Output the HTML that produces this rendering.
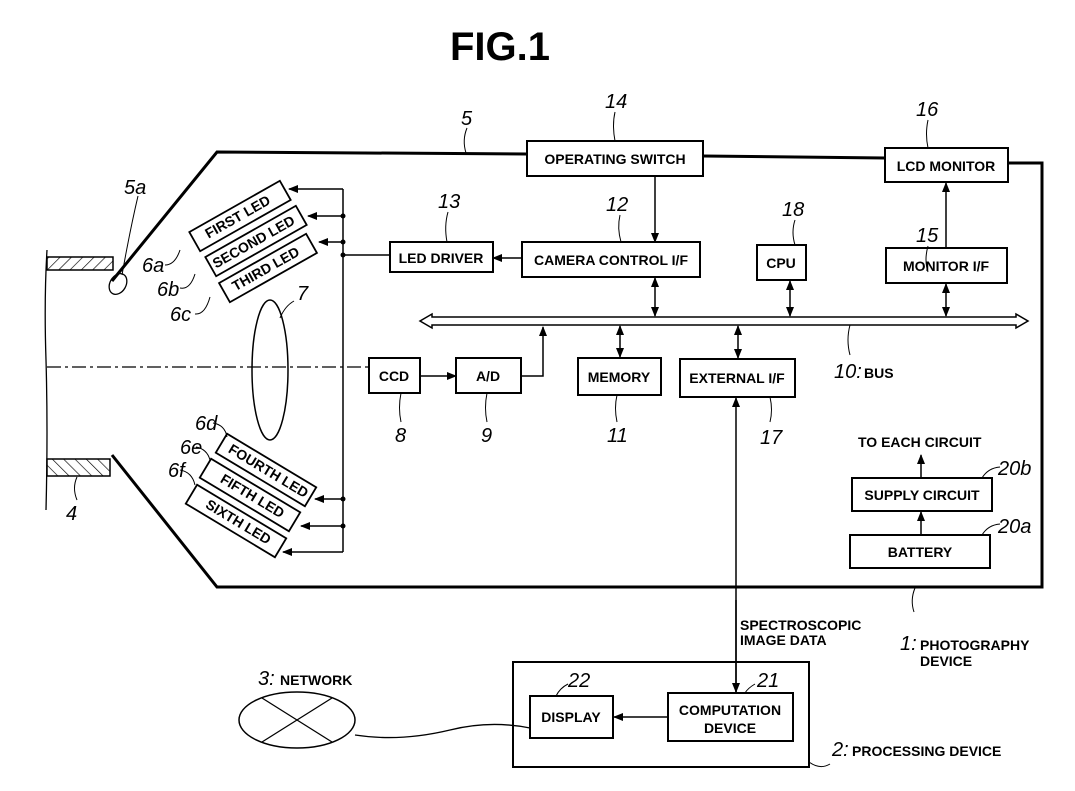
<!DOCTYPE html>
<html><head><meta charset="utf-8"><style>
html,body{margin:0;padding:0;background:#fff;}
svg{display:block;}
text{font-family:"Liberation Sans",sans-serif;fill:#000;}
.b{font-weight:bold;font-size:14px;}
.n{font-style:italic;font-size:20px;}
</style></head><body>
<svg width="1075" height="791" viewBox="0 0 1075 791" xmlns="http://www.w3.org/2000/svg">
<defs>
<marker id="a" markerWidth="10" markerHeight="8" refX="9" refY="4" orient="auto" markerUnits="userSpaceOnUse"><path d="M0,0 L10,4 L0,8 z" fill="#000"/></marker>
<marker id="s" markerWidth="10" markerHeight="8" refX="1" refY="4" orient="auto" markerUnits="userSpaceOnUse"><path d="M10,0 L0,4 L10,8 z" fill="#000"/></marker>
<pattern id="h" width="8" height="8" patternUnits="userSpaceOnUse" patternTransform="rotate(45)"><line x1="0" y1="0" x2="0" y2="8" stroke="#000" stroke-width="1.3"/></pattern>
<pattern id="h2" width="8" height="8" patternUnits="userSpaceOnUse" patternTransform="rotate(-45)"><line x1="0" y1="0" x2="0" y2="8" stroke="#000" stroke-width="1.3"/></pattern>
</defs>
<g fill="none" stroke="#000">
<text x="500" y="60" text-anchor="middle" style="font-weight:bold;font-size:40px" stroke="none">FIG.1</text>
<polyline points="112,281 217,152 527,154" stroke-width="3"/>
<line x1="703" y1="156" x2="885" y2="158" stroke-width="3"/>
<polyline points="1008,163 1042,163 1042,587 217,587 112,455" stroke-width="3"/>
<path d="M47,250 Q44,300 46,360 Q48,430 46,510" stroke-width="1.3"/>
<rect x="47" y="257" width="66" height="13" fill="url(#h)" stroke-width="1.5"/>
<rect x="47" y="459" width="63" height="17" fill="url(#h2)" stroke-width="1.5"/>
<ellipse cx="118" cy="284" rx="8" ry="11" transform="rotate(30 118 284)" stroke-width="1.3"/>
<line x1="47" y1="367" x2="369" y2="367" stroke-dasharray="14,4,3,4" stroke-width="1.2"/>
<ellipse cx="270" cy="370" rx="18" ry="70" stroke-width="1.5"/>
<g stroke-width="1.8">
<rect x="-52" y="-11" width="104" height="22" transform="translate(240,216) rotate(-29.5)" fill="#fff"/>
<rect x="-52" y="-11" width="104" height="22" transform="translate(256,241) rotate(-29.5)" fill="#fff"/>
<rect x="-50" y="-11" width="100" height="22" transform="translate(268,268) rotate(-29.5)" fill="#fff"/>
<rect x="-52" y="-11" width="104" height="22" transform="translate(266,470) rotate(31)" fill="#fff"/>
<rect x="-52" y="-11" width="104" height="22" transform="translate(250,495) rotate(31)" fill="#fff"/>
<rect x="-52" y="-11" width="104" height="22" transform="translate(236,521) rotate(31)" fill="#fff"/>
</g>
<g stroke="none" class="b">
<text transform="translate(240,221) rotate(-29.5)" text-anchor="middle">FIRST LED</text>
<text transform="translate(256,246) rotate(-29.5)" text-anchor="middle">SECOND LED</text>
<text transform="translate(268,273) rotate(-29.5)" text-anchor="middle">THIRD LED</text>
<text transform="translate(266,475) rotate(31)" text-anchor="middle">FOURTH LED</text>
<text transform="translate(250,500) rotate(31)" text-anchor="middle">FIFTH LED</text>
<text transform="translate(236,526) rotate(31)" text-anchor="middle">SIXTH LED</text>
</g>
<g stroke-width="1.5">
<polyline points="390,255 343,255"/>
<line x1="343" y1="189" x2="343" y2="255"/>
<line x1="343" y1="189" x2="289" y2="189" marker-end="url(#a)"/>
<line x1="343" y1="216" x2="308" y2="216" marker-end="url(#a)"/>
<line x1="343" y1="242" x2="319" y2="242" marker-end="url(#a)"/>
<line x1="343" y1="255" x2="343" y2="552"/>
<line x1="343" y1="499" x2="315" y2="499" marker-end="url(#a)"/>
<line x1="343" y1="526" x2="301" y2="526" marker-end="url(#a)"/>
<line x1="343" y1="552" x2="283" y2="552" marker-end="url(#a)"/>
</g>
<g fill="#000" stroke="none">
<circle cx="343" cy="216" r="2.5"/><circle cx="343" cy="242" r="2.5"/><circle cx="343" cy="255" r="2.5"/>
<circle cx="343" cy="499" r="2.5"/><circle cx="343" cy="526" r="2.5"/>
</g>
<g stroke-width="2" fill="#fff">
<rect x="527" y="141" width="176" height="35"/>
<rect x="885" y="148" width="123" height="34"/>
<rect x="390" y="242" width="103" height="30"/>
<rect x="522" y="242" width="178" height="35"/>
<rect x="757" y="245" width="49" height="35"/>
<rect x="886" y="248" width="121" height="35"/>
<rect x="369" y="358" width="51" height="35"/>
<rect x="456" y="358" width="65" height="35"/>
<rect x="578" y="358" width="83" height="37"/>
<rect x="680" y="359" width="115" height="38"/>
<rect x="852" y="478" width="140" height="33"/>
<rect x="850" y="535" width="140" height="33"/>
<rect x="513" y="662" width="296" height="105"/>
<rect x="530" y="696" width="83" height="42"/>
<rect x="668" y="693" width="125" height="48"/>
</g>
<g stroke="none" class="b" text-anchor="middle">
<text x="615" y="164">OPERATING SWITCH</text>
<text x="946" y="171">LCD MONITOR</text>
<text x="441" y="263">LED DRIVER</text>
<text x="611" y="265">CAMERA CONTROL I/F</text>
<text x="781" y="268">CPU</text>
<text x="946" y="271">MONITOR I/F</text>
<text x="394" y="381">CCD</text>
<text x="488" y="381">A/D</text>
<text x="619" y="382">MEMORY</text>
<text x="737" y="383">EXTERNAL I/F</text>
<text x="922" y="500">SUPPLY CIRCUIT</text>
<text x="920" y="557">BATTERY</text>
<text x="571" y="722">DISPLAY</text>
<text x="730" y="715">COMPUTATION</text>
<text x="730" y="733">DEVICE</text>
</g>
<path d="M420,321 L432,314 L432,317 L1016,317 L1016,314 L1028,321 L1016,328 L1016,325 L432,325 L432,328 z" stroke-width="1.5"/>
<g stroke-width="1.5">
<line x1="655" y1="176" x2="655" y2="242" marker-end="url(#a)"/>
<line x1="522" y1="258" x2="493" y2="258" marker-end="url(#a)"/>
<line x1="655" y1="278" x2="655" y2="316" marker-start="url(#s)" marker-end="url(#a)"/>
<line x1="790" y1="281" x2="790" y2="316" marker-start="url(#s)" marker-end="url(#a)"/>
<line x1="946" y1="284" x2="946" y2="316" marker-start="url(#s)" marker-end="url(#a)"/>
<line x1="946" y1="248" x2="946" y2="183" marker-end="url(#a)"/>
<line x1="620" y1="326" x2="620" y2="357" marker-start="url(#s)" marker-end="url(#a)"/>
<line x1="738" y1="326" x2="738" y2="358" marker-start="url(#s)" marker-end="url(#a)"/>
<polyline points="521,376 543,376 543,327" marker-end="url(#a)"/>
<line x1="420" y1="376" x2="456" y2="376" marker-end="url(#a)"/>
<line x1="736" y1="693" x2="736" y2="398" marker-end="url(#a)"/>
<line x1="736" y1="600" x2="736" y2="692" marker-end="url(#a)"/>
<line x1="921" y1="478" x2="921" y2="455" marker-end="url(#a)"/>
<line x1="921" y1="535" x2="921" y2="512" marker-end="url(#a)"/>
<line x1="668" y1="717" x2="614" y2="717" marker-end="url(#a)"/>
</g>
<ellipse cx="297" cy="720" rx="58" ry="28" stroke-width="1.5"/>
<line x1="262" y1="698" x2="332" y2="742" stroke-width="1.3"/>
<line x1="262" y1="742" x2="332" y2="698" stroke-width="1.3"/>
<path d="M355,735 Q400,742 450,730 Q490,720 530,728" stroke-width="1.3"/>
<g stroke-width="1">
<path d="M467,128 Q462,140 466,153"/>
<path d="M615,112 Q612,125 615,141"/>
<path d="M928,120 Q925,134 928,148"/>
<path d="M448,212 Q444,226 447,242"/>
<path d="M620,215 Q617,228 621,242"/>
<path d="M795,220 Q791,232 795,245"/>
<path d="M928,246 Q924,260 928,272"/>
<path d="M401,393 Q398,408 401,422"/>
<path d="M487,393 Q484,408 487,422"/>
<path d="M617,395 Q614,408 617,422"/>
<path d="M770,397 Q773,410 770,422"/>
<path d="M850,325 Q846,340 850,355"/>
<path d="M982,478 Q988,468 1000,467"/>
<path d="M982,535 Q988,525 1000,524"/>
<path d="M138,196 Q130,230 122,275"/>
<path d="M294,301 Q285,306 280,318"/>
<path d="M165,265 Q175,265 180,250"/>
<path d="M180,288 Q190,290 195,274"/>
<path d="M195,314 Q205,315 210,297"/>
<path d="M213,423 Q225,425 227,437"/>
<path d="M196,447 Q207,449 210,460"/>
<path d="M180,470 Q192,472 195,485"/>
<path d="M77,477 Q72,488 77,500"/>
<path d="M568,684 Q560,688 556,696"/>
<path d="M755,684 Q748,688 745,693"/>
<path d="M809,762 Q820,770 830,764"/>
<path d="M915,588 Q910,600 914,612"/>
</g>
<g stroke="none" class="n">
<text x="461" y="125">5</text>
<text x="605" y="108">14</text>
<text x="916" y="116">16</text>
<text x="438" y="208">13</text>
<text x="606" y="211">12</text>
<text x="782" y="216">18</text>
<text x="916" y="242">15</text>
<text x="395" y="442">8</text>
<text x="481" y="442">9</text>
<text x="607" y="442">11</text>
<text x="760" y="444">17</text>
<text x="834" y="378">10:</text>
<text x="998" y="475">20b</text>
<text x="998" y="533">20a</text>
<text x="124" y="194">5a</text>
<text x="297" y="300">7</text>
<text x="142" y="272">6a</text>
<text x="157" y="296">6b</text>
<text x="170" y="321">6c</text>
<text x="195" y="430">6d</text>
<text x="180" y="454">6e</text>
<text x="168" y="477">6f</text>
<text x="66" y="520">4</text>
<text x="568" y="687">22</text>
<text x="757" y="687">21</text>
<text x="258" y="685">3:</text>
<text x="832" y="756">2:</text>
<text x="900" y="650">1:</text>
</g>
<g stroke="none" class="b">
<text x="864" y="378">BUS</text>
<text x="858" y="447">TO EACH CIRCUIT</text>
<text x="280" y="685">NETWORK</text>
<text x="852" y="756">PROCESSING DEVICE</text>
<text x="920" y="650">PHOTOGRAPHY</text>
<text x="920" y="666">DEVICE</text>
<text x="740" y="630">SPECTROSCOPIC</text>
<text x="740" y="645">IMAGE DATA</text>
</g>
</g>
</svg>
</body></html>
